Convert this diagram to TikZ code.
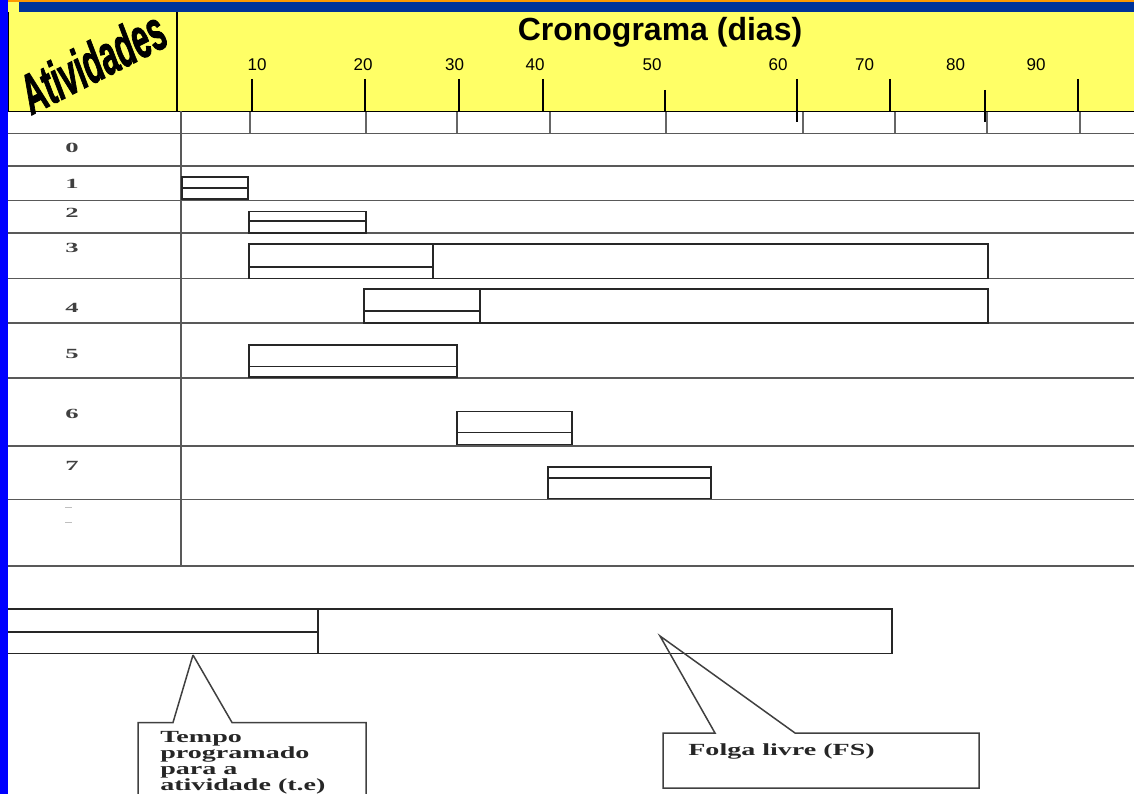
\documentclass[tikz,border=0pt]{standalone}
\usepackage{graphicx}
\usepackage{fontspec}
\setmainfont{Liberation Serif}
\setsansfont{Liberation Sans}
\newfontfamily\heavyfont[UprightFont={* Bold Italic},FakeBold=2]{Liberation Sans}
\definecolor{hdryellow}{RGB}{255,255,102}
\definecolor{bandblue}{RGB}{0,51,153}
\definecolor{edgeblue}{RGB}{0,0,255}
\definecolor{topline}{RGB}{255,153,0}
\begin{document}
\begin{tikzpicture}[x=1pt,y=-1pt,
  gridline/.style={draw=black!65, line width=1.6pt},
  barline/.style={draw=black!85, line width=1.8pt},
  hdrtick/.style={draw=black, line width=1.2pt},
  subtick/.style={draw=black!60, line width=1.8pt},
  calloutline/.style={draw=black!75, line width=1.5pt},
  daylabel/.style={font=\sffamily\fontsize{17}{17}\selectfont, anchor=base, inner sep=0},
  rowlabel/.style={font=\bfseries\fontsize{14}{14}\selectfont, text=black!75, xscale=1.9, transform shape, inner sep=0},
  notetext/.style={font=\bfseries\fontsize{17}{16}\selectfont, text=black!85, xscale=1.65, transform shape, inner sep=0, align=left}]
\useasboundingbox (0,0) rectangle (1134,794);

% header band
\fill[hdryellow] (8,2) rectangle (1134,111);
\fill[topline] (8,0) rectangle (1134,2);
\fill[bandblue] (19,2) rectangle (1134,12.5);
\draw[line width=1.2pt] (8.7,12.5) -- (8.7,111);
\draw[line width=1.2pt] (177,12.5) -- (177,111);
\draw[line width=1.4pt] (8,111.5) -- (1134,111.5);

% header texts
\node[rotate=27, anchor=base west, inner sep=0] (act) at (32,115)
  {\scalebox{0.55}[1]{\heavyfont\fontsize{56}{56}\selectfont Atividades}};
\node[font=\sffamily\bfseries\fontsize{32}{32}\selectfont, anchor=base, inner sep=0] (title) at (660,41) {Cronograma (dias)};
\node[daylabel] (d10) at (257,70.5) {10};
\node[daylabel] (d20) at (363,70.5) {20};
\node[daylabel] (d30) at (454.5,70.5) {30};
\node[daylabel] (d40) at (535,70.5) {40};
\node[daylabel] (d50) at (652,70.5) {50};
\node[daylabel] (d60) at (778,70.5) {60};
\node[daylabel] (d70) at (864.5,70.5) {70};
\node[daylabel] (d80) at (955.5,70.5) {80};
\node[daylabel] (d90) at (1036,70.5) {90};

% day ticks in the header
\foreach \x in {252,365,459,543,890,1078} \draw[hdrtick] (\x,79) -- (\x,111);
\draw[hdrtick] (665,90) -- (665,111);
\draw[hdrtick] (797,79) -- (797,122);
\draw[hdrtick] (985,90) -- (985,122);

% scale strip under the header
\foreach \x in {250,366,457,550,666,803,895,987,1080} \draw[subtick] (\x,112) -- (\x,133.5);

% activity rows
\foreach \y in {133.5,166,200.5,233,278.5,323,378,446,499.5,566}
  \draw[gridline] (7.5,\y) -- (1134,\y);
\draw[gridline] (181,111.5) -- (181,566);

% activity numbers
\node[rowlabel] (r0) at (72,148) {0};
\node[rowlabel] (r1) at (72,184) {1};
\node[rowlabel] (r2) at (72,213) {2};
\node[rowlabel] (r3) at (72,248) {3};
\node[rowlabel] (r4) at (72,308) {4};
\node[rowlabel] (r5) at (72,354) {5};
\node[rowlabel] (r6) at (72,414) {6};
\node[rowlabel] (r7) at (72,466) {7};
\draw[black!25, line width=1pt] (65,507) -- (72,507) (65,522) -- (72,522);

% bars: scheduled time (lower strip) and free float (rest of the box)
\draw[barline] (182,177) rectangle (248,199) (182,188) -- (248,188);
\draw[barline] (249,211.5) rectangle (366,233) (249,221) -- (366,221);
\draw[barline] (249,244) rectangle (988,278.5) (433,244) -- (433,278.5) (249,267) -- (433,267);
\draw[barline] (364,289) rectangle (988,323) (480,289) -- (480,323) (364,311) -- (480,311);
\draw[barline] (249,345) rectangle (457,377) (249,366.5) -- (457,366.5);
\draw[barline] (457,411.5) rectangle (572,444.5) (457,432.5) -- (572,432.5);
\draw[barline] (548,467) rectangle (711,498.5) (548,478) -- (711,478);

% legend bar
\draw[barline] (8,609) -- (892,609) -- (892,653.5) -- (8,653.5) (318,609) -- (318,653.5) (8,632) -- (318,632);

% callouts
\coordinate (tipA) at (193,655);
\coordinate (tipB) at (660,636);
\draw[calloutline] (tipA) -- (173,722.5) -- (138,722.5) -- (138,800)
                   (tipA) -- (232,722.5) -- (366,722.5) -- (366,800);
\node[notetext, anchor=north west] (tempo) at (160,731.5)
  {Tempo\\programado\\para a\\atividade (t.e)};
\draw[calloutline] (tipB) -- (715,733) -- (663,733) -- (663,788) -- (979,788) -- (979,733) -- (795,733) -- cycle;
\node[notetext, anchor=base west] (folga) at (688,755) {Folga livre (FS)};

% left edge strip
\fill[edgeblue] (0,0) rectangle (7.5,794);
\end{tikzpicture}
\end{document}
